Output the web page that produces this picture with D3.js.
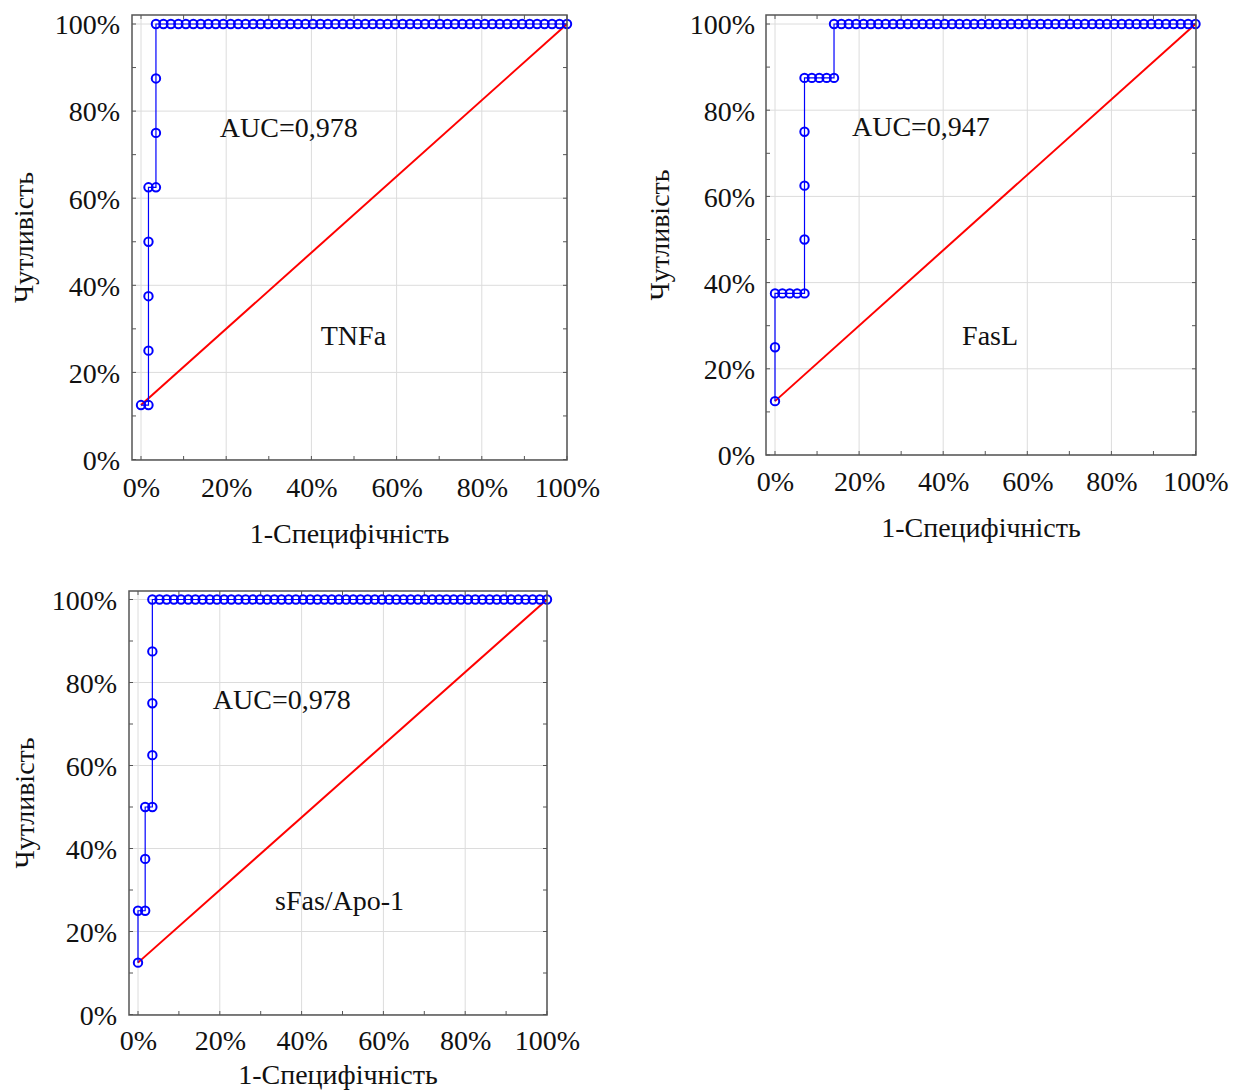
<!DOCTYPE html>
<html>
<head>
    <meta charset="utf-8">
    <title>ROC curves</title>
    <style>
        body {
            margin: 0;
            padding: 0;
            background: white;
            font-family: "Liberation Serif", "Times New Roman", serif;
        }

        .frame {
            fill: none;
            stroke: #555;
            stroke-width: 1.5;
        }

        .grid line {
            stroke: #dcdcdc;
            stroke-width: 1;
        }

        .tick-mark {
            stroke: #555;
            stroke-width: 1;
        }

        .ref {
            fill: none;
            stroke: #ff0000;
            stroke-width: 2;
        }

        .roc {
            fill: none;
            stroke: #0000ff;
            stroke-width: 1.2;
        }

        .dot {
            fill: none;
            stroke: #0000ff;
            stroke-width: 2;
        }

        text {
            fill: #111;
        }
    </style>
</head>
<body>
    <svg id="chart" width="1244" height="1090"></svg>

    <script src="https://d3js.org/d3.v7.min.js"></script>
    <script>
        // number of negative / positive cases (steps on the axes)
        var negTotal = 57,
            posTotal = 8;

        var tickValues = [0, 20, 40, 60, 80, 100];
        var minorTicks = [0, 10, 20, 30, 40, 50, 60, 70, 80, 90, 100];

        // ROC points as counts: false positives (of 57) and true positives (of 8)
        var tnfaFP = [0, 1, 1, 1, 1, 1, 2, 2, 2, 2, 3, 4, 5, 6, 7, 8, 9, 10, 11, 12, 13, 14, 15, 16, 17, 18, 19, 20,
            21, 22, 23, 24, 25, 26, 27, 28, 29, 30, 31, 32, 33, 34, 35, 36, 37, 38, 39, 40, 41, 42, 43, 44, 45, 46,
            47, 48, 49, 50, 51, 52, 53, 54, 55, 56, 57];
        var tnfaTP = [1, 1, 2, 3, 4, 5, 5, 6, 7, 8, 8, 8, 8, 8, 8, 8, 8, 8, 8, 8, 8, 8, 8, 8, 8, 8, 8, 8,
            8, 8, 8, 8, 8, 8, 8, 8, 8, 8, 8, 8, 8, 8, 8, 8, 8, 8, 8, 8, 8, 8, 8, 8, 8, 8,
            8, 8, 8, 8, 8, 8, 8, 8, 8, 8, 8];

        var faslFP = [0, 0, 0, 1, 2, 3, 4, 4, 4, 4, 4, 5, 6, 7, 8, 8, 9, 10, 11, 12, 13, 14, 15, 16, 17, 18, 19, 20,
            21, 22, 23, 24, 25, 26, 27, 28, 29, 30, 31, 32, 33, 34, 35, 36, 37, 38, 39, 40, 41, 42, 43, 44, 45, 46,
            47, 48, 49, 50, 51, 52, 53, 54, 55, 56, 57];
        var faslTP = [1, 2, 3, 3, 3, 3, 3, 4, 5, 6, 7, 7, 7, 7, 7, 8, 8, 8, 8, 8, 8, 8, 8, 8, 8, 8, 8, 8,
            8, 8, 8, 8, 8, 8, 8, 8, 8, 8, 8, 8, 8, 8, 8, 8, 8, 8, 8, 8, 8, 8, 8, 8, 8, 8,
            8, 8, 8, 8, 8, 8, 8, 8, 8, 8, 8];

        var sfasFP = [0, 0, 1, 1, 1, 2, 2, 2, 2, 2, 3, 4, 5, 6, 7, 8, 9, 10, 11, 12, 13, 14, 15, 16, 17, 18, 19, 20,
            21, 22, 23, 24, 25, 26, 27, 28, 29, 30, 31, 32, 33, 34, 35, 36, 37, 38, 39, 40, 41, 42, 43, 44, 45, 46,
            47, 48, 49, 50, 51, 52, 53, 54, 55, 56, 57];
        var sfasTP = [1, 2, 2, 3, 4, 4, 5, 6, 7, 8, 8, 8, 8, 8, 8, 8, 8, 8, 8, 8, 8, 8, 8, 8, 8, 8, 8, 8,
            8, 8, 8, 8, 8, 8, 8, 8, 8, 8, 8, 8, 8, 8, 8, 8, 8, 8, 8, 8, 8, 8, 8, 8, 8, 8,
            8, 8, 8, 8, 8, 8, 8, 8, 8, 8, 8];

        // reference line (percent)
        var refX = [0, 100],
            refY = [12.5, 100];

        var markerNames = ["TNFa", "FasL", "sFas/Apo-1"];
        var aucLabels = ["AUC=0,978", "AUC=0,947", "AUC=0,978"];

        var yTitle = "Чутливість",
            xTitle = "1-Специфічність";

        // layout of the three panels (pixels)
        var panels = [{
                fp: tnfaFP, tp: tnfaTP, name: markerNames[0], auc: aucLabels[0],
                box: [132, 15, 567, 460],
                xr: [141, 567], yr: [459.5, 24],
                aucPos: [18.5, 74], namePos: [42.2, 26.3],
                xLabY: 497, xTitleY: 543, yTitleX: 33, tickRight: 120
            },
            {
                fp: faslFP, tp: faslTP, name: markerNames[1], auc: aucLabels[1],
                box: [766, 15, 1196, 455],
                xr: [775, 1195.5], yr: [455, 24],
                aucPos: [18.3, 74], namePos: [44.5, 25.5],
                xLabY: 491, xTitleY: 537, yTitleX: 669, tickRight: 755
            },
            {
                fp: sfasFP, tp: sfasTP, name: markerNames[2], auc: aucLabels[2],
                box: [129, 591, 547, 1015],
                xr: [138, 547], yr: [1014.5, 599.5],
                aucPos: [18.3, 73.5], namePos: [33.5, 25.2],
                xLabY: 1050, xTitleY: 1084, yTitleX: 34, tickRight: 117
            }
        ];

        var svg = d3.select("#chart");

        panels.forEach(drawPanel);

        function drawPanel(p) {
            var x = d3.scaleLinear().domain([0, 100]).range(p.xr),
                y = d3.scaleLinear().domain([0, 100]).range(p.yr);

            var l = p.box[0], t = p.box[1], r = p.box[2], b = p.box[3];
            var g = svg.append("g");

            // grid
            var grid = g.append("g").attr("class", "grid");
            grid.selectAll(".gx").data(tickValues).enter().append("line")
                .attr("x1", d => x(d)).attr("x2", d => x(d))
                .attr("y1", t).attr("y2", b);
            grid.selectAll(".gy").data(tickValues).enter().append("line")
                .attr("x1", l).attr("x2", r)
                .attr("y1", d => y(d)).attr("y2", d => y(d));

            // inward tick marks on all four sides
            var tl = 4;
            var tk = g.append("g");
            minorTicks.forEach(function(d) {
                tk.append("line").attr("class", "tick-mark")
                    .attr("x1", x(d)).attr("x2", x(d)).attr("y1", b).attr("y2", b - tl);
                tk.append("line").attr("class", "tick-mark")
                    .attr("x1", x(d)).attr("x2", x(d)).attr("y1", t).attr("y2", t + tl);
                tk.append("line").attr("class", "tick-mark")
                    .attr("x1", l).attr("x2", l + tl).attr("y1", y(d)).attr("y2", y(d));
                tk.append("line").attr("class", "tick-mark")
                    .attr("x1", r).attr("x2", r - tl).attr("y1", y(d)).attr("y2", y(d));
            });

            // reference line
            g.append("path").attr("class", "ref")
                .attr("d", d3.line()(refX.map((d, i) => [x(d), y(refY[i])])));

            // roc curve
            var pts = p.fp.map((d, i) => [d / negTotal * 100, p.tp[i] / posTotal * 100]);
            g.append("path").attr("class", "roc")
                .attr("d", d3.line().x(d => x(d[0])).y(d => y(d[1]))(pts));
            g.selectAll(".dot").data(pts).enter().append("circle")
                .attr("class", "dot")
                .attr("cx", d => x(d[0]))
                .attr("cy", d => y(d[1]))
                .attr("r", 4.2);

            // frame
            g.append("rect").attr("class", "frame")
                .attr("x", l).attr("y", t).attr("width", r - l).attr("height", b - t);

            // y axis labels
            var yAxis = d3.axisLeft(y).tickValues(tickValues).tickSize(0).tickFormat(d => d + "%");
            var ya = g.append("g").attr("transform", "translate(" + p.tickRight + ",0)").call(yAxis);
            ya.select(".domain").remove();
            ya.selectAll("text")
                .attr("x", 0).attr("dy", "0.35em")
                .style("font-family", "'Liberation Serif', serif")
                .style("font-size", "28px")
                .attr("fill", "#111");

            // x axis labels
            var xAxis = d3.axisBottom(x).tickValues(tickValues).tickSize(0).tickFormat(d => d + "%");
            var xa = g.append("g").attr("transform", "translate(0," + p.xLabY + ")").call(xAxis);
            xa.select(".domain").remove();
            xa.selectAll("text")
                .attr("y", 0).attr("dy", 0)
                .style("font-family", "'Liberation Serif', serif")
                .style("font-size", "28px")
                .attr("fill", "#111");

            // titles
            g.append("text")
                .attr("x", (l + r) / 2).attr("y", p.xTitleY)
                .attr("text-anchor", "middle")
                .style("font-size", "28px")
                .text(xTitle);

            var cy = (t + b) / 2;
            g.append("text")
                .attr("transform", "translate(" + p.yTitleX + "," + cy + ") rotate(-90)")
                .attr("text-anchor", "middle")
                .style("font-size", "28px")
                .text(yTitle);

            // annotations
            g.append("text")
                .attr("x", x(p.aucPos[0])).attr("y", y(p.aucPos[1]))
                .style("font-size", "28px")
                .text(p.auc);
            g.append("text")
                .attr("x", x(p.namePos[0])).attr("y", y(p.namePos[1]))
                .style("font-size", "28px")
                .text(p.name);
        }
    </script>
</body>
</html>
